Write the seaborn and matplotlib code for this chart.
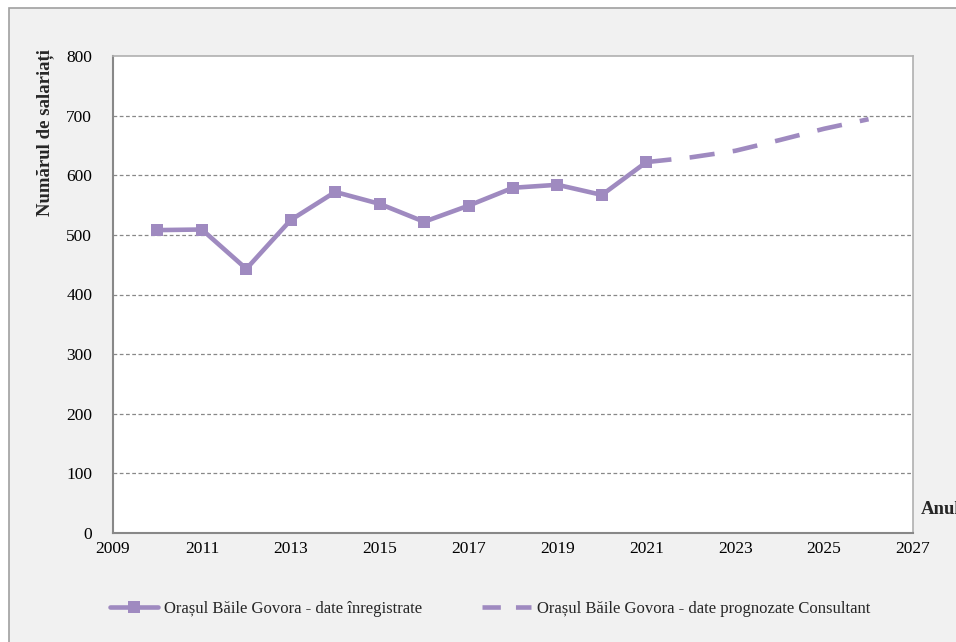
import pandas as pd
import matplotlib.pyplot as plt
import seaborn as sns
from matplotlib.patches import Rectangle
from matplotlib.lines import Line2D

# Recorded data
years_rec = [2010, 2011, 2012, 2013, 2014, 2015, 2016, 2017, 2018, 2019, 2020, 2021]
values_rec = [508, 509, 443, 525, 572, 552, 522, 549, 579, 584, 567, 622]

# Consultant forecast
years_fc = [2021, 2022, 2023, 2024, 2025, 2026]
values_fc = [622, 630, 641, 659, 678, 694]

x_ticks = [2009, 2011, 2013, 2015, 2017, 2019, 2021, 2023, 2025, 2027]
y_ticks = [0, 100, 200, 300, 400, 500, 600, 700, 800]

label_rec = 'Orașul Băile Govora - date înregistrate'
label_fc = 'Orașul Băile Govora - date prognozate Consultant'

color = '#9f8ac0'

sns.set_theme(style='white')
plt.rcParams['font.family'] = ['Liberation Serif', 'DejaVu Serif']

fig = plt.figure(figsize=(9.56, 6.42), dpi=100)
fig.patch.set_facecolor('white')
fig.patches.append(Rectangle((9 / 956, -0.1), 1.2, 1 - 8 / 642 + 0.1,
                             transform=fig.transFigure, facecolor='#f1f1f1',
                             edgecolor='#a0a0a0', linewidth=1.2, zorder=-10))

ax = fig.add_axes([113 / 956, 1 - 533 / 642, 800 / 956, 477 / 642])
ax.set_facecolor('white')

rec = pd.DataFrame({'year': years_rec, 'value': values_rec})
fc = pd.DataFrame({'year': years_fc, 'value': values_fc})

sns.lineplot(data=rec, x='year', y='value', ax=ax, color=color, linewidth=3.3,
             marker='s', markersize=9, markeredgewidth=0, zorder=5)
sns.lineplot(data=fc, x='year', y='value', ax=ax, color=color, linewidth=3.3,
             dashes=False, zorder=4)
ax.lines[-1].set_dashes([5.5, 4.0])

ax.set_xlim(2009, 2027)
ax.set_ylim(0, 800)
ax.set_xticks(x_ticks)
ax.set_yticks(y_ticks)
ax.tick_params(axis='both', labelsize=12.5, colors='black', length=5, width=1,
               direction='out')
ax.tick_params(axis='both', color='#888888')
ax.tick_params(axis='y', pad=10)
ax.tick_params(axis='x', pad=1)
ax.set_xlabel('')
ax.set_ylabel('')

for y in y_ticks[1:-1]:
    ax.axhline(y, color='#888888', linewidth=0.9, linestyle=(0, (3, 2)), zorder=1)

for side in ['top', 'right']:
    ax.spines[side].set_color('#b0b0b0')
    ax.spines[side].set_linewidth(1.2)
for side in ['left', 'bottom']:
    ax.spines[side].set_color('#888888')
    ax.spines[side].set_linewidth(1.5)

fig.text(45 / 956, 1 - 133 / 642, 'Numărul de salariați', rotation=90,
         ha='center', va='center', fontsize=13.5, fontweight='bold')
fig.text(921 / 956, 1 - 509 / 642, 'Anul', ha='left', va='center',
         fontsize=13.5, fontweight='bold')

handles = [
    Line2D([], [], color=color, linewidth=3.3, marker='s', markersize=9,
           markeredgewidth=0),
    Line2D([], [], color=color, linewidth=3.3, dashes=[4.0, 3.3]),
]
fig.legend(handles, [label_rec, label_fc], loc='center',
           bbox_to_anchor=(490 / 956, 1 - 609 / 642), ncol=2, frameon=False,
           fontsize=12, handlelength=2.9, handletextpad=0.35, columnspacing=3.6)

fig.savefig('out.png', dpi=100)
